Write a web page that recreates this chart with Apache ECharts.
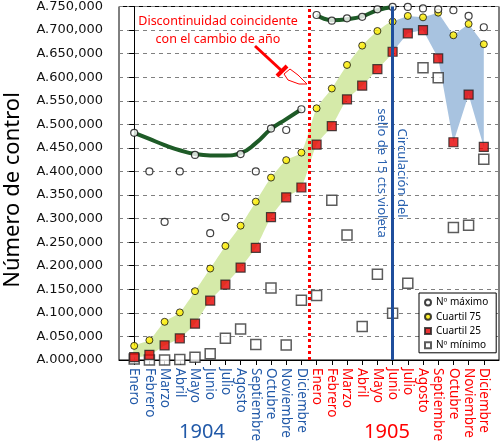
<!DOCTYPE html>
<html>
<head>
<meta charset="utf-8">
<script src="https://cdn.jsdelivr.net/npm/echarts@6/dist/echarts.min.js"></script>
<style>html,body{margin:0;padding:0;background:#fff}#main{width:500px;height:447px}</style>
</head>
<body>
<div id="main"></div>
<script>
// meses: 0-11 = 1904, 12-23 = 1905
const months = ['Enero', 'Febrero', 'Marzo', 'Abril', 'Mayo', 'Junio', 'Julio', 'Agosto', 'Septiembre', 'Octubre', 'Noviembre', 'Diciembre'];
const xLabels = months.concat(months);
const years = ['1904', '1905'];

const maxNum = [482000, 400000, 293000, 400000, 435000, 269000, 303000, 437000, 400000, 491000, 488000, 532000,
                732000, 720000, 725000, 728000, 744000, 749000, 749000, 746000, 744000, 742000, 730000, 706000];
const q75 = [30000, 42000, 81000, 101000, 146000, 194000, 242000, 285000, 336000, 387000, 424000, 440000,
             534000, 576000, 626000, 667000, 698000, 718000, 730000, 727000, 737000, 689000, 713000, 670000];
const q25 = [6000, 11000, 31000, 46000, 77000, 126000, 160000, 196000, 238000, 303000, 345000, 366000,
             457000, 496000, 553000, 582000, 617000, 654000, 693000, 700000, 640000, 462000, 563000, 452000];
const minNum = [2000, 0, 0, 1000, 6000, 13000, 46000, 66000, 33000, 153000, 32000, 127000,
                137000, 339000, 265000, 71000, 182000, 99000, 163000, 620000, 599000, 281000, 286000, 426000];
// linea de tendencia del maximo
const trend1904 = [482000, 469000, 456000, 445000, 437000, 434000, 434000, 439000, 460000, 490000, 511000, 532000];
const trend1905 = [732000, 721000, 723000, 729000, 742000, 749000];

const yearBreak = 11.5;   // cambio de año
const stampMonth = 17;    // Junio 1905

const blue = '#2159a8';
const red = '#ff0000';

var myChart = echarts.init(document.getElementById('main'));

function pairs(arr, offset) {
    return arr.map((v, i) => [i + (offset || 0), v]);
}

// banda entre cuartiles
function band(from, to, color, smooth) {
    return {
        type: 'custom',
        silent: true,
        z: 1,
        data: [[from, q25[from]]],
        encode: { x: 0, y: 1 },
        renderItem: function (params, api) {
            const pts = [];
            for (let i = from; i <= to; i++) pts.push(api.coord([i, q75[i]]));
            for (let i = to; i >= from; i--) pts.push(api.coord([i, q25[i]]));
            return {
                type: 'polygon',
                shape: { points: pts, smooth: smooth },
                style: { fill: color }
            };
        }
    };
}

const option = {
    animation: false,
    grid: { left: 119, right: 1, top: 6, bottom: 87, show: true, borderColor: '#000', borderWidth: 1 },
    legend: {
        orient: 'vertical',
        left: 419,
        top: 293,
        padding: [4, 8, 2, 5],
        itemGap: 3,
        itemWidth: 6,
        itemHeight: 6,
        borderColor: '#000',
        borderWidth: 1,
        backgroundColor: '#fff',
        selectedMode: false,
        textStyle: { fontFamily: 'Noto Sans', fontSize: 10, color: '#000', lineHeight: 11.2 },
        data: ['Nº máximo', 'Cuartil 75', 'Cuartil 25', 'Nº mínimo']
    },
    xAxis: {
        type: 'value',
        min: -1,
        max: 24,
        interval: 1,
        splitLine: { show: false },
        axisLine: { lineStyle: { color: '#000', width: 1 } },
        axisTick: { length: 5, lineStyle: { color: '#000' }, customValues: xLabels.map((m, i) => i) },
        axisLabel: {
            customValues: xLabels.map((m, i) => i),
            rotate: -90,
            margin: 8,
            fontFamily: 'Noto Sans',
            fontSize: 13.5,
            formatter: v => xLabels[v],
            color: (v, i) => (v < 12 ? blue : red)
        }
    },
    yAxis: {
        type: 'value',
        min: 0,
        max: 750000,
        interval: 50000,
        axisLine: { show: true, lineStyle: { color: '#000' } },
        axisTick: { show: true, length: 5, lineStyle: { color: '#000' } },
        splitLine: { lineStyle: { color: '#808080', type: [4, 4], width: 1 } },
        axisLabel: {
            margin: 16,
            fontFamily: 'DejaVu Sans',
            fontSize: 13,
            color: '#111',
            formatter: v => 'A.' + String(Math.round(v / 1000)).padStart(3, '0') + ',000'
        }
    },
    graphic: [
        {
            type: 'text', x: 13, y: 190, rotation: Math.PI / 2, z: 10,
            style: { text: 'Número de control', font: '22px "Noto Sans"', fill: '#000', align: 'center', verticalAlign: 'middle' }
        },
        {
            type: 'text', z: 10, x: 218, y: 30,
            style: {
                text: 'Discontinuidad coincidente\ncon el cambio de año',
                font: '12.5px "Noto Sans"', lineHeight: 18, fill: red,
                align: 'center', verticalAlign: 'middle'
            }
        },
        {
            type: 'text', z: 10, x: 392, y: 173, rotation: -Math.PI / 2,
            style: {
                text: 'Circulación del\nsello de 15 cts violeta',
                font: '13px "Noto Sans"', lineHeight: 20, fill: '#2a62b0',
                align: 'center', verticalAlign: 'middle'
            }
        },
        {
            type: 'text', z: 10, x: 202, y: 432,
            style: { text: years[0], font: '20px "Noto Sans"', fill: blue, align: 'center', verticalAlign: 'middle' }
        },
        {
            type: 'text', z: 10, x: 387, y: 432,
            style: { text: years[1], font: '20px "Noto Sans"', fill: red, align: 'center', verticalAlign: 'middle' }
        },
        // flecha con mano
        {
            type: 'line', z: 10,
            shape: { x1: 255, y1: 46, x2: 282, y2: 71 },
            style: { stroke: red, lineWidth: 3 }
        },
        {
            type: 'line', z: 10,
            shape: { x1: 277, y1: 76, x2: 287, y2: 66 },
            style: { stroke: red, lineWidth: 4 }
        },
        {
            type: 'polygon', z: 10,
            shape: { points: [[284, 74], [290, 69], [298, 75], [307, 84], [299, 84], [288, 80]] },
            style: { fill: '#fff', stroke: red, lineWidth: 1 }
        }
    ],
    series: [
        band(0, stampMonth, '#d5eaa9', 0.2),
        band(stampMonth, 23, '#a8c3e0', 0),
        {
            type: 'line', z: 2, silent: true, smooth: true, symbol: 'none',
            data: pairs(trend1904, 0),
            lineStyle: { color: '#1e5b27', width: 4 },
            markLine: {
                silent: true, symbol: 'none', label: { show: false },
                data: [
                    { xAxis: yearBreak, lineStyle: { color: red, width: 3, type: [3, 3] } },
                    { xAxis: stampMonth, lineStyle: { color: '#1f4e9c', width: 3, type: 'solid' } }
                ]
            }
        },
        {
            type: 'line', z: 2, silent: true, smooth: true, symbol: 'none',
            data: pairs(trend1905, 12),
            lineStyle: { color: '#1e5b27', width: 4 }
        },
        {
            name: 'Nº mínimo', type: 'scatter', z: 3, symbol: 'rect', symbolSize: 10,
            data: pairs(minNum),
            itemStyle: { color: '#fff', borderColor: '#333', borderWidth: 1.5 }
        },
        {
            name: 'Cuartil 25', type: 'scatter', z: 4, symbol: 'rect', symbolSize: 9,
            data: pairs(q25),
            itemStyle: { color: '#e60000', borderColor: '#222', borderWidth: 1.2 }
        },
        {
            name: 'Cuartil 75', type: 'scatter', z: 4, symbol: 'circle', symbolSize: 7,
            data: pairs(q75),
            itemStyle: { color: '#ffee00', borderColor: '#111', borderWidth: 1 }
        },
        {
            name: 'Nº máximo', type: 'scatter', z: 4, symbol: 'circle', symbolSize: 7,
            data: pairs(maxNum),
            itemStyle: { color: '#fff', borderColor: '#111', borderWidth: 1.2 }
        }
    ]
};

myChart.setOption(option);
</script>
</body>
</html>
